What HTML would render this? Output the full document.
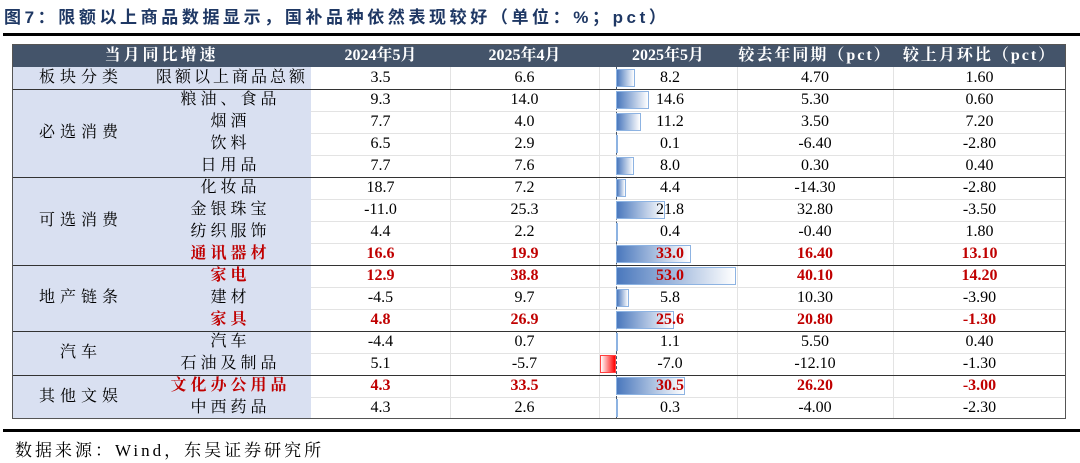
<!DOCTYPE html>
<html><head><meta charset="utf-8">
<style>
body{margin:0;width:1080px;height:463px;background:#fff;overflow:hidden;position:relative;font-family:"Liberation Serif","Noto Serif CJK SC",serif;}
.t{position:absolute;white-space:nowrap;}
.c{position:absolute;text-align:center;font-size:15px;line-height:22px;color:#000;white-space:nowrap;}
.red{color:#c00000;font-weight:bold;}
.hl{position:absolute;height:0;}
</style></head><body>
<div class="t" style="left:4px;top:3px;font-size:17px;font-weight:bold;color:#1f3864;font-family:'Liberation Sans','Noto Sans CJK SC',sans-serif;letter-spacing:3.6px;">图7：限额以上商品数据显示，国补品种依然表现较好（单位：%；pct）</div>
<div class="hl" style="left:3px;width:1077px;top:33px;border-top:3px solid #000;"></div>
<div id="tbl"></div>
<div class="hl" style="left:3px;width:1077px;top:429px;border-top:3px solid #000;"></div>
<div class="t" style="left:15px;top:436px;font-size:17px;letter-spacing:3px;">数据来源：Wind，东吴证券研究所</div>
<script>
const names=["限额以上商品总额","粮油、食品","烟酒","饮料","日用品","化妆品","金银珠宝","纺织服饰","通讯器材","家电","建材","家具","汽车","石油及制品","文化办公用品","中西药品"];
const may24=["3.5","9.3","7.7","6.5","7.7","18.7","-11.0","4.4","16.6","12.9","-4.5","4.8","-4.4","5.1","4.3","4.3"];
const apr25=["6.6","14.0","4.0","2.9","7.6","7.2","25.3","2.2","19.9","38.8","9.7","26.9","0.7","-5.7","33.5","2.6"];
const may25=[8.2,14.6,11.2,0.1,8.0,4.4,21.8,0.4,33.0,53.0,5.8,25.6,1.1,-7.0,30.5,0.3];
const yoy=["4.70","5.30","3.50","-6.40","0.30","-14.30","32.80","-0.40","16.40","40.10","10.30","20.80","5.50","-12.10","26.20","-4.00"];
const mom=["1.60","0.60","7.20","-2.80","0.40","-2.80","-3.50","1.80","13.10","14.20","-3.90","-1.30","0.40","-1.30","-3.00","-2.30"];
const highlight=[8,9,11,14];
const groups=[["板块分类",0,1],["必选消费",1,4],["可选消费",5,4],["地产链条",9,3],["汽车",12,2],["其他文娱",14,2]];
const T=document.getElementById('tbl');
const X0=12,X1=1066,TOP=44,HH=23,RH=22,R0=67;
const cols=[[311,450],[450,599],[599,737],[737,893],[893,1066]];
const AX=616,SC=120/53;
function add(html,style,cls){const d=document.createElement('div');d.className=cls||'c';d.setAttribute('style',style);d.innerHTML=html;T.appendChild(d);return d;}
let bg=add('',`left:${X0}px;top:${R0}px;width:${311-X0}px;height:${RH*16}px;background:#d9e0f1;`);


let hd=add('',`left:${X0}px;top:${TOP}px;width:${X1-X0}px;height:${HH}px;background:#44546a;`);


const heads=["2024年5月","2025年4月","2025年5月","较去年同期（pct）","较上月环比（pct）"];
let h0=add('当月同比增速',`left:${X0}px;top:${TOP}px;width:${311-X0}px;line-height:${HH}px;color:#fff;font-weight:bold;font-size:16px;letter-spacing:3px;`);


heads.forEach((h,i)=>{const d=add(h,`left:${cols[i][0]}px;top:${TOP}px;width:${cols[i][1]-cols[i][0]}px;line-height:${HH}px;color:#fff;font-weight:bold;font-size:16px;letter-spacing:${i>=3?2:0}px;`);

});
for(let i=1;i<16;i++){const y=R0+RH*i;const l=add('',`left:311px;width:${X1-311}px;top:${y}px;border-top:1px solid #e3e3e3;`,'hl');

}
[450,599,737,893].forEach(x=>{const l=add('',`left:${x}px;top:${R0}px;width:0;height:${RH*16}px;border-left:1px solid #e3e3e3;`,'hl');

});
groups.forEach(g=>{const y=R0+RH*g[1];
if(g[1]>0){const l=add('',`left:${X0}px;width:${X1-X0}px;top:${y}px;border-top:1.5px solid #333;`,'hl');

}
const d=add(g[0],`left:${X0+4}px;top:${y}px;width:130px;line-height:${RH*g[2]}px;font-size:16px;letter-spacing:5px;`);

});
let ax=add('',`left:${AX}px;top:${R0}px;width:0;height:${RH*16}px;border-left:1px dashed #44546a;`,'hl');


for(let i=0;i<16;i++){const y=R0+RH*i;const red=highlight.includes(i);const cl=red?'c red':'c';
const nm=add(names[i],`left:${i==0?150:150}px;top:${y}px;width:${i==0?164:161}px;font-size:16px;letter-spacing:${i==0?3:4}px;`,cl);


const v=may25[i];const w=Math.abs(v)*SC;
const b=add('',v>=0?`left:${AX}px;top:${y+2}px;width:${w}px;height:${RH-4}px;box-sizing:border-box;border:1px solid #8db3e2;background:linear-gradient(to right,#4a78bd,#ffffff);`:`left:${AX-w}px;top:${y+2}px;width:${w}px;height:${RH-4}px;box-sizing:border-box;border:1px solid #ff4040;background:linear-gradient(to right,#ffffff,#ff0000);`);


const vals=[may24[i],apr25[i],v.toFixed(1),yoy[i],mom[i]];
vals.forEach((t,j)=>{const d=add(t,`left:${cols[j][0]+(j==2?2:0)}px;top:${y}px;width:${cols[j][1]-cols[j][0]}px;font-size:16px;`,cl);

});
}
let ob=add('',`left:${X0}px;top:${TOP}px;width:${X1-X0}px;height:${R0+RH*16-TOP}px;border:1px solid #555;box-sizing:border-box;`);


</script>
</body></html>
